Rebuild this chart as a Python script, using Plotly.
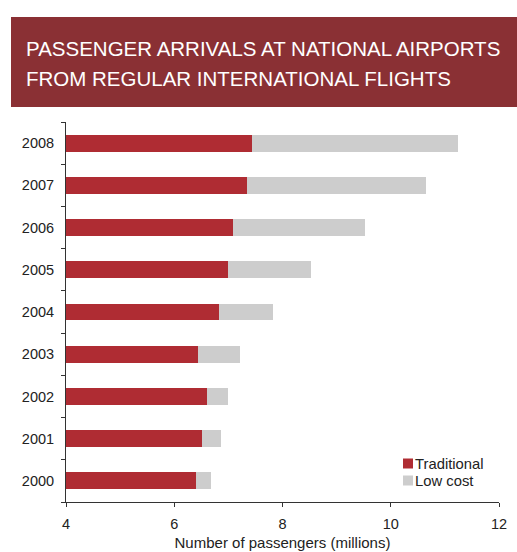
import plotly.graph_objects as go

years = ["2000", "2001", "2002", "2003", "2004", "2005", "2006", "2007", "2008"]
traditional = [6.41, 6.52, 6.60, 6.43, 6.82, 6.99, 7.08, 7.34, 7.43]
low_cost = [0.26, 0.34, 0.40, 0.78, 1.00, 1.53, 2.44, 3.31, 3.81]
x_ticks = [4, 6, 8, 10, 12]
series_names = ["Traditional", "Low cost"]
series_colors = ["#AF2C33", "#CDCDCD"]
title_lines = ["PASSENGER ARRIVALS AT NATIONAL AIRPORTS", "FROM REGULAR INTERNATIONAL FLIGHTS"]

W, H = 517, 552
ML, MR, MT, MB = 66, 18, 122, 50
pw = W - ML - MR
ph = H - MT - MB
FONT = "Liberation Sans, Arial"


def px_x(p):
    return (p - ML) / pw


def px_y(p):
    return (H - MB - p) / ph


fig = go.Figure()
for name, vals, col in zip(series_names, [traditional, low_cost], series_colors):
    fig.add_trace(go.Bar(
        y=years, x=vals, orientation="h", name=name,
        marker=dict(color=col, line=dict(width=0)), width=0.4,
        showlegend=False,
    ))

# title banner
fig.add_shape(type="rect", xref="paper", yref="paper",
              x0=px_x(11), x1=px_x(517), y0=px_y(107), y1=px_y(17),
              fillcolor="#8A3034", line=dict(width=0), layer="below")
for line, yc in zip(title_lines, [48, 78]):
    fig.add_annotation(xref="paper", yref="paper", x=px_x(24), y=px_y(yc),
                       text=line, showarrow=False, xanchor="left", yanchor="middle",
                       font=dict(family=FONT, size=20.5, color="white"))

# compact key in the lower right
for name, col, yc in zip(series_names, series_colors, [463.5, 480.5]):
    fig.add_shape(type="rect", xref="paper", yref="paper",
                  x0=px_x(403), x1=px_x(413), y0=px_y(yc + 5), y1=px_y(yc - 5),
                  fillcolor=col, line=dict(width=0))
    fig.add_annotation(xref="paper", yref="paper", x=px_x(412.5), y=px_y(yc),
                       text=name, showarrow=False, xanchor="left", yanchor="middle",
                       font=dict(family=FONT, size=14.8, color="#222222"))

fig.update_layout(
    barmode="stack",
    width=W, height=H,
    margin=dict(l=ML, r=MR, t=MT, b=MB, autoexpand=False),
    paper_bgcolor="white", plot_bgcolor="white",
    font=dict(family=FONT, size=14.5, color="#222222"),
    showlegend=False,
    bargap=0.6,
)
fig.update_xaxes(range=[4, 12], tickvals=x_ticks, ticks="outside", ticklen=4,
                 tickcolor="#333333", showline=True, linecolor="#333333", linewidth=1,
                 showgrid=False, zeroline=False, ticklabelstandoff=5,
                 title=dict(text="Number of passengers (millions)", font=dict(size=15), standoff=6))
fig.update_yaxes(categoryorder="array", categoryarray=years, ticks="outside", ticklen=4,
                 tickson="boundaries", tickcolor="#333333", showline=True,
                 linecolor="#333333", linewidth=1, showgrid=False, ticklabelstandoff=8)

fig.write_html("out.html")
